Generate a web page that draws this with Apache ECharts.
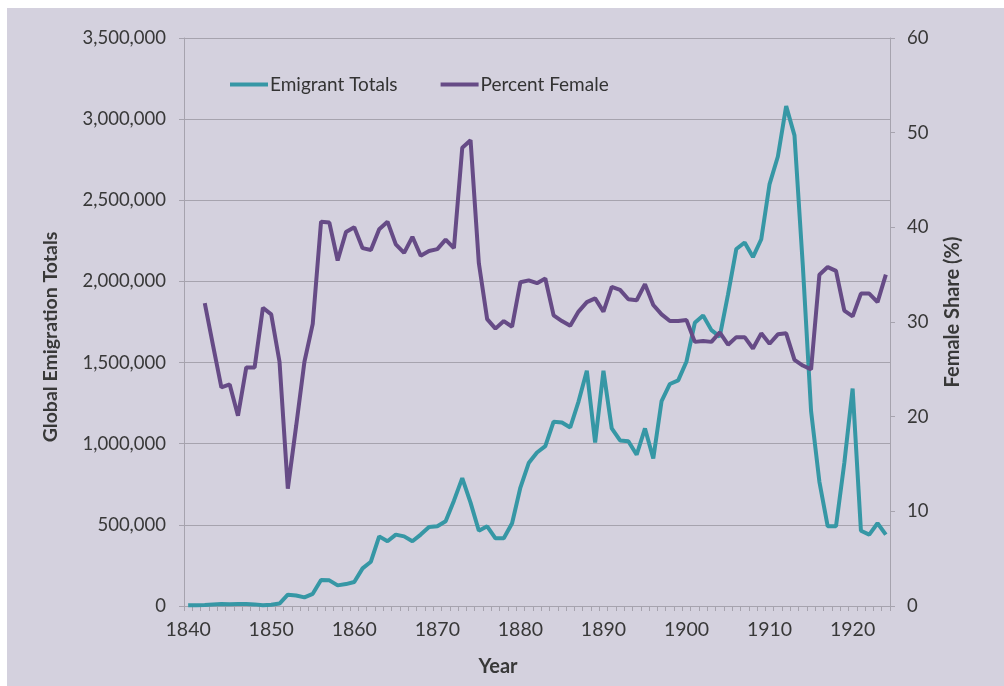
<!DOCTYPE html>
<html>
<head>
<meta charset="utf-8">
<script src="https://cdn.jsdelivr.net/npm/echarts@6/dist/echarts.min.js"></script>
<style>
  html, body { margin: 0; padding: 0; background: #ffffff; }
  #bg { position: absolute; left: 7px; top: 8px; width: 997px; height: 678px; background: #d4d1de; }
  #chart { position: absolute; left: 0; top: 0; width: 1004px; height: 686px; }
</style>
</head>
<body>
<div id="bg"></div>
<div id="chart"></div>
<script>
const years = [
  1840, 1841, 1842, 1843, 1844, 1845, 1846, 1847, 1848, 1849,
  1850, 1851, 1852, 1853, 1854, 1855, 1856, 1857, 1858, 1859,
  1860, 1861, 1862, 1863, 1864, 1865, 1866, 1867, 1868, 1869,
  1870, 1871, 1872, 1873, 1874, 1875, 1876, 1877, 1878, 1879,
  1880, 1881, 1882, 1883, 1884, 1885, 1886, 1887, 1888, 1889,
  1890, 1891, 1892, 1893, 1894, 1895, 1896, 1897, 1898, 1899,
  1900, 1901, 1902, 1903, 1904, 1905, 1906, 1907, 1908, 1909,
  1910, 1911, 1912, 1913, 1914, 1915, 1916, 1917, 1918, 1919,
  1920, 1921, 1922, 1923, 1924
];

// global emigrant totals, 1840 - 1924
const emigrantTotals = [
  4000, 5000, 6000, 9000, 12000, 11000, 13000, 12000, 10000, 5000,
  8000, 15000, 70000, 65000, 53000, 75000, 160000, 158000, 127000, 135000,
  148000, 232000, 273000, 429000, 399000, 440000, 429000, 399000, 440000, 487000,
  491000, 522000, 649000, 788000, 637000, 464000, 491000, 417000, 417000, 510000,
  730000, 881000, 946000, 985000, 1136000, 1131000, 1100000, 1260000, 1449000, 1008000,
  1449000, 1094000, 1020000, 1015000, 932000, 1094000, 909000, 1263000, 1368000, 1390000,
  1507000, 1745000, 1790000, 1700000, 1660000, 1920000, 2200000, 2240000, 2150000, 2260000,
  2600000, 2770000, 3080000, 2900000, 2100000, 1200000, 765000, 491000, 491000, 881000,
  1340000, 464000, 440000, 510000, 440000
];

// female share in %, no data for 1840 and 1841
const percentFemale = [
  null, null, 32.0, 27.5, 23.1, 23.4, 20.1, 25.2, 25.2, 31.5,
  30.8, 25.8, 12.4, 19.0, 25.8, 29.8, 40.6, 40.5, 36.5, 39.5,
  40.0, 37.8, 37.6, 39.8, 40.6, 38.2, 37.3, 39.0, 37.0, 37.5,
  37.7, 38.7, 37.8, 48.4, 49.2, 36.2, 30.3, 29.3, 30.1, 29.5,
  34.2, 34.4, 34.1, 34.6, 30.7, 30.1, 29.6, 31.1, 32.1, 32.5,
  31.1, 33.7, 33.4, 32.4, 32.3, 34.0, 31.8, 30.8, 30.1, 30.1,
  30.2, 27.9, 28.0, 27.9, 28.9, 27.6, 28.4, 28.4, 27.2, 28.8,
  27.7, 28.7, 28.8, 26.0, 25.4, 25.0, 35.0, 35.8, 35.4, 31.2,
  30.6, 33.0, 33.0, 32.1, 35.0
];

const leftTicks = [0, 500000, 1000000, 1500000, 2000000, 2500000, 3000000, 3500000];
const rightTicks = [0, 10, 20, 30, 40, 50, 60];

const fontFamily = "Lato";
const textColor = "#383838";
const gridColor = "#a6a3ae";

const chart = echarts.init(document.getElementById("chart"));

chart.setOption({
  animation: false,
  textStyle: { fontFamily: fontFamily },
  grid: { left: 184, right: 114, top: 38, bottom: 80 },
  legend: {
    left: 225,
    top: 70,
    icon: "rect",
    itemWidth: 38,
    itemHeight: 4,
    itemGap: 43,
    textStyle: { fontFamily: fontFamily, fontSize: 19, color: "#333333", padding: [0, 0, 0, -3] },
    data: ["Emigrant Totals", "Percent Female"]
  },
  xAxis: {
    type: "category",
    data: years,
    boundaryGap: true,
    name: "Year",
    nameLocation: "middle",
    nameGap: 51,
    nameTextStyle: { fontFamily: fontFamily, fontSize: 20, fontWeight: "bold", color: textColor, padding: [0, 78, 0, 0] },
    axisLine: { lineStyle: { color: gridColor, width: 1 } },
    axisTick: { show: true, interval: 0, length: 5, lineStyle: { color: gridColor } },
    axisLabel: { interval: 9, margin: 14, fontSize: 19.5, color: textColor, fontFamily: fontFamily }
  },
  yAxis: [
    {
      type: "value",
      min: leftTicks[0],
      max: leftTicks[leftTicks.length - 1],
      interval: leftTicks[1] - leftTicks[0],
      name: "Global Emigration Totals",
      nameLocation: "middle",
      nameRotate: 90,
      nameGap: 123,
      // pad the end so the title sits a little lower, as in the original
      nameTextStyle: { fontFamily: fontFamily, fontSize: 19.5, fontWeight: "bold", color: textColor, padding: [0, 30, 0, 0] },
      axisLine: { show: true, lineStyle: { color: gridColor, width: 1 } },
      axisTick: { show: true, length: 5, lineStyle: { color: gridColor } },
      splitLine: { show: true, lineStyle: { color: gridColor, width: 1 } },
      axisLabel: {
        margin: 18,
        fontSize: 18.5,
        color: textColor,
        fontFamily: fontFamily,
        formatter: function(v) {
          return v.toLocaleString("en-US");
        }
      }
    },
    {
      type: "value",
      position: "right",
      min: rightTicks[0],
      max: rightTicks[rightTicks.length - 1],
      interval: rightTicks[1] - rightTicks[0],
      name: "Female Share (%)",
      nameLocation: "middle",
      nameRotate: 90,
      nameGap: 53,
      nameTextStyle: { fontFamily: fontFamily, fontSize: 20, fontWeight: "bold", color: textColor, padding: [0, 0, 0, 20] },
      axisLine: { show: true, lineStyle: { color: gridColor, width: 1 } },
      axisTick: { show: true, length: 5, lineStyle: { color: gridColor } },
      splitLine: { show: false },
      axisLabel: { margin: 17, fontSize: 18.5, color: textColor, fontFamily: fontFamily }
    }
  ],
  series: [
    {
      name: "Emigrant Totals",
      type: "line",
      yAxisIndex: 0,
      data: emigrantTotals,
      symbol: "none",
      itemStyle: { color: "#3697a5" },
      lineStyle: { color: "#3697a5", width: 4 },
      z: 2
    },
    {
      name: "Percent Female",
      type: "line",
      yAxisIndex: 1,
      data: percentFemale,
      symbol: "none",
      itemStyle: { color: "#664b86" },
      lineStyle: { color: "#664b86", width: 4 },
      z: 3
    }
  ]
});
</script>
</body>
</html>
